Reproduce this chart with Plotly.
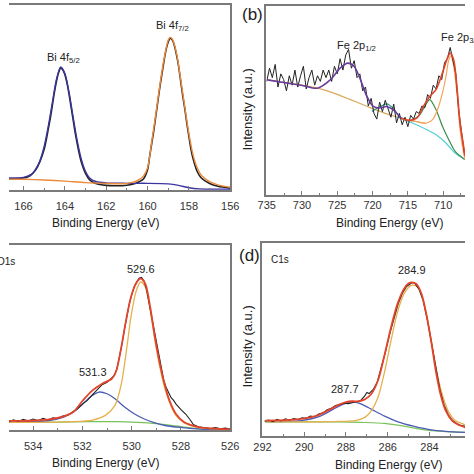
import plotly.graph_objects as go

# ---------------- Panel (a): Bi 4f ----------------
a_raw_x = [166.7,166.3,166.0,165.8,165.6,165.4,165.2,165.0,164.9,164.8,164.7,164.6,164.5,164.4,164.3,164.2,164.1,164.0,163.9,163.8,163.7,163.6,163.5,163.4,163.3,163.2,163.0,162.8,162.5,162.0,161.5,161.0,160.6,160.4,160.2,160.0,159.9,159.8,159.7,159.6,159.5,159.4,159.3,159.2,159.1,159.0,158.9,158.8,158.7,158.6,158.5,158.4,158.3,158.2,158.1,158.0,157.9,157.8,157.6,157.4,157.0,156.6,156.0]
a_raw_y = [6.0,6.2,6.5,7.0,8.5,11,15.5,22,27,33,39,46,53,59,63.5,66,65,62.5,58,52,45,38,31,25,19.5,15,9,5.5,3.5,2.5,2.3,2.6,3.5,4.5,6,11,18,25,32,40,48,56,63,70,76,80,82,81,78,73,67,59,51,44,36,29,22,17,10,6.5,3.5,2,1]
a_c1_x = [166.7,166.0,165.6,165.4,165.2,165.0,164.8,164.6,164.4,164.2,164.0,163.8,163.6,163.4,163.2,163.0,162.8,162.5,162.0,161.0,160.0,159.0,158.5,158.0,157.5,156.0]
a_c1_y = [6.5,6.8,8.6,11.5,16,23.5,34.5,47.5,60,66.5,63,53,39.5,26.5,16.5,10,6.5,4.6,3.8,3.6,3.6,3.3,2.5,1.2,0.6,0.5]
a_c2_x = [166.7,166.0,165.0,164.0,163.0,162.0,161.2,160.8,160.5,160.2,160.0,159.8,159.6,159.4,159.2,159.0,158.9,158.8,158.6,158.4,158.2,158.0,157.8,157.6,157.4,157.0,156.6,156.0]
a_c2_y = [5.9,5.8,5.4,4.8,4.0,3.6,3.4,4.0,5.0,7.5,12,26,41,57,71,81,82.5,81.5,74,60,45,30.5,19,12,8,4.5,2.8,1.5]
a_ticks = [166, 164, 162, 160, 158, 156]

# ---------------- Panel (b): Fe 2p ----------------
b_raw_x = [735.0,734.6,734.2,733.8,733.4,733.0,732.6,732.2,731.8,731.4,731.0,730.6,730.2,729.8,729.4,729.0,728.6,728.2,727.8,727.4,727.0,726.6,726.2,725.8,725.4,725.0,724.6,724.2,723.8,723.4,723.0,722.6,722.2,721.8,721.4,721.0,720.6,720.2,719.8,719.4,719.0,718.6,718.2,717.8,717.4,717.0,716.6,716.2,715.8,715.4,715.0,714.6,714.2,713.8,713.4,713.0,712.6,712.2,711.8,711.4,711.0,710.6,710.2,709.8,709.4,709.0,708.6,708.2,707.8,707.4,707.0]
b_raw_y = [60,67,62,69,57,64,61,55,63,58,66,57,63,68,56,62,66,58,63,60,66,62,66,60,68,64,72,66,74,77,67,71,62,64,55,57,47,51,43,40,49,44,50,45,41,48,38,43,37,41,36,42,40,44,43,47,46,53,51,58,56,63,61,70,72,78,70,64,45,33,22]
b_fit1_x = [734.9,732.4,730.1,727.8,726.0,724.6,723.5,722.6,721.7,720.8,719.9,719.0,718.0,717.1,716.0]
b_fit1_y = [60.8,59.3,58.0,56.4,60.8,67.0,69.7,67.9,60.8,52.0,46.7,45.9,46.7,45.0,40.6]
b_fit2_x = [716.0,714.9,713.7,712.8,711.9,711.0,710.1,709.4,709.0,708.5,708.05,707.6,707.1,706.9]
b_fit2_y = [40.6,39.3,40.6,46.7,52.0,55.6,64.4,72.3,75.0,71.4,57.3,37.9,25.6,20.3]
b_bg_x = [734.9,732.4,730.1,727.8,725.5,723.3,721.0,719.6,718.3,716.5,714.6,713.3,712.4]
b_bg_y = [60.8,59.4,58.0,56.4,53.8,50.6,47.1,45.0,43.2,41.1,39.3,38.3,37.6]
b_main_x = [714.6,713.3,712.4,711.5,710.8,710.1,709.6,709.2,708.9,708.5,708.0,707.6,707.1,706.9]
b_main_y = [39.3,38.3,37.8,39.7,45.0,53.8,62.6,71.4,73.5,68.0,52.0,34.4,22.0,18.5]
b_sh_x = [714.6,713.3,712.6,711.9,711.0,710.1,709.2,708.3,706.9]
b_sh_y = [38.8,42.3,46.7,50.3,45.0,36.2,29.1,22.9,18.5]
b_sat_x = [720.1,719.0,718.0,717.1,716.2,715.3]
b_sat_y = [44.1,46.4,48.1,45.9,41.4,39.7]
b_bg2_x = [716.5,714.6,712.8,711.0,709.6,708.3,706.9]
b_bg2_y = [41.1,38.3,35.3,31.7,27.3,22.0,18.5]
b_ticks = [735, 730, 725, 720, 715, 710]

# ---------------- Panel (c): O 1s ----------------
c_raw_x = [535.0,534.8,534.6,534.4,534.2,534.0,533.8,533.6,533.4,533.2,533.0,532.8,532.6,532.4,532.2,532.0,531.8,531.6,531.4,531.2,531.0,530.8,530.7,530.6,530.5,530.4,530.3,530.2,530.1,530.0,529.9,529.8,529.7,529.6,529.5,529.4,529.3,529.2,529.1,529.0,528.9,528.8,528.7,528.6,528.5,528.4,528.3,528.2,528.0,527.8,527.6,527.5,527.3,527.0,526.8,526.6,526.4,526.2,526.0]
c_raw_y = [4.3,5.5,4.6,5.8,4.9,5.9,5.0,6.3,5.4,6.6,6.2,7.6,8.0,9.8,11.5,14.0,16.0,19.0,22.0,24.5,25.8,28.0,29.5,33.0,39,46,54,62,68,73,77.5,80,82,82.5,80.5,76,69,61,53,46,39,32,27,23,20,17.5,16,14,11,8.5,5,3,1.8,1.2,0.8,1.3,0.6,1.0,0.5]
c_fit_x = [534.98,534.2,533.41,532.76,532.37,531.98,531.59,531.2,530.81,530.62,530.42,530.23,530.03,529.83,529.64,529.45,529.25,529.06,528.86,528.67,528.47,528.21,527.88,527.56,527.17,526.65,526.03]
c_fit_y = [4.9,5.0,5.6,7.4,9.7,16.0,21.4,25.0,27.7,32.3,44.9,59.3,71.9,79.1,81.8,79.1,66.5,50.3,35.9,25.0,16.0,8.8,4.3,2.5,1.3,0.7,0.4]
c_c1_x = [534.98,533.41,532.76,532.37,531.98,531.65,531.33,531.0,530.68,530.29,529.9,529.51,529.12,528.6,527.95,527.17,526.03]
c_c1_y = [4.3,5.0,7.0,9.7,14.2,18.2,20.5,19.6,16.9,12.4,8.8,6.1,4.1,2.3,1.3,0.5,0.2]
c_c2_x = [534.98,532.37,531.59,531.07,530.68,530.42,530.23,530.03,529.83,529.64,529.45,529.25,529.06,528.86,528.67,528.47,528.21,527.88,527.56,527.17,526.03]
c_c2_y = [4.1,4.5,5.4,7.9,13.3,25.0,41.3,61.1,74.6,80.0,77.3,64.7,48.5,34.1,23.2,15.1,7.9,4.0,2.2,1.1,0.2]
c_bg_x = [534.98,533.02,531.72,530.68,529.77,528.99,528.21,527.43,526.65,526.03]
c_bg_y = [4.1,4.3,4.5,4.5,4.1,3.4,2.2,0.9,0.4,0.2]
c_ticks = [534, 532, 530, 528, 526]

# ---------------- Panel (d): C 1s ----------------
d_raw_x = [291.9,291.7,291.5,291.3,291.1,290.9,290.7,290.5,290.3,290.1,289.9,289.7,289.5,289.3,289.1,288.9,288.7,288.5,288.3,288.1,287.9,287.7,287.5,287.3,287.1,287.0,286.9,286.8,286.7,286.5,286.3,286.1,285.9,285.7,285.5,285.3,285.1,284.9,284.8,284.7,284.5,284.3,284.1,283.9,283.7,283.5,283.3,283.1,282.9,282.7,282.5,282.3]
d_raw_y = [7.6,8.3,7.4,8.6,7.8,8.9,8.2,9.0,8.5,9.4,9.2,10.3,10.0,11.4,12.0,13.6,14.4,15.8,16.2,17.0,16.8,17.2,17.6,18.3,20.8,22.5,22.0,22.8,24.0,28.0,35.5,44,53,61,68.5,74,77.5,79,79.5,79,76,70,60,48,35,24,16,11,8,6.5,5.5,5.0]
d_fit_x = [291.85,290.92,290.15,289.38,288.77,288.31,288.0,287.69,287.38,287.08,286.77,286.46,286.15,285.85,285.54,285.23,285.0,284.85,284.62,284.38,284.15,283.92,283.69,283.46,283.23,282.92,282.62,282.29]
d_fit_y = [8.0,8.2,8.9,10.6,13.8,16.4,17.6,18.0,18.0,19.0,22.0,29.0,42.1,56.0,68.2,76.1,79.1,79.6,78.7,73.5,63.0,49.0,33.3,21.1,13.3,8.0,5.8,4.5]
d_c1_x = [291.85,290.15,289.23,288.62,288.15,287.77,287.54,287.23,286.77,286.15,285.54,284.77,284.0,283.23,282.29]
d_c1_y = [7.5,8.0,10.3,13.8,16.4,17.6,17.6,16.4,13.8,10.3,7.5,5.1,3.3,2.4,1.9]
d_c2_x = [291.85,288.62,287.54,287.08,286.77,286.46,286.15,285.85,285.54,285.23,284.92,284.77,284.54,284.31,284.08,283.85,283.62,283.38,283.08,282.77,282.29]
d_c2_y = [7.3,7.5,8.0,9.8,13.3,20.2,33.3,49.0,63.9,73.5,77.8,78.2,77.0,70.9,59.5,45.5,31.6,21.1,12.4,8.0,5.8]
d_bg_x = [291.85,288.62,287.08,286.15,285.23,284.31,283.38,282.29]
d_bg_y = [7.3,7.3,7.0,6.5,5.1,3.3,2.4,1.9]
d_ticks = [292, 290, 288, 286, 284]

BLACK = "#222222"
RED = "#e2442c"
FONT = "Liberation Sans, Arial, sans-serif"

fig = go.Figure()

def line(x, y, color, xa, ya, width=1.4, shape="spline"):
    fig.add_trace(go.Scatter(x=x, y=y, mode="lines", xaxis=xa, yaxis=ya,
                             line=dict(color=color, width=width, shape=shape, smoothing=0.8),
                             hoverinfo="skip", showlegend=False))

# (a)
line(a_raw_x, a_raw_y, BLACK, "x", "y", 1.6)
line(a_c1_x, a_c1_y, "#3b35a0", "x", "y", 1.4)
line(a_c2_x, a_c2_y, "#ec8a3c", "x", "y", 1.4)
# (b)
line(b_bg_x, b_bg_y, "#d9a95e", "x2", "y2", 1.2)
line(b_bg2_x, b_bg2_y, "#4fd0d6", "x2", "y2", 1.2)
line(b_sat_x, b_sat_y, "#2f9a86", "x2", "y2", 1.2)
line(b_sh_x, b_sh_y, "#3a8f4a", "x2", "y2", 1.2)
line(b_main_x, b_main_y, "#f2a45a", "x2", "y2", 1.2)
line(b_raw_x, b_raw_y, BLACK, "x2", "y2", 1.0, "linear")
line(b_fit1_x, b_fit1_y, "#6a3c9c", "x2", "y2", 1.6)
line(b_fit2_x, b_fit2_y, RED, "x2", "y2", 1.6)
# (c)
line(c_bg_x, c_bg_y, "#79c25a", "x3", "y3", 1.2)
line(c_c1_x, c_c1_y, "#4b5cb4", "x3", "y3", 1.3)
line(c_c2_x, c_c2_y, "#e7b04e", "x3", "y3", 1.3)
line(c_raw_x, c_raw_y, BLACK, "x3", "y3", 1.1, "linear")
line(c_fit_x, c_fit_y, RED, "x3", "y3", 1.8)
# (d)
line(d_bg_x, d_bg_y, "#79c25a", "x4", "y4", 1.2)
line(d_c1_x, d_c1_y, "#4b5cb4", "x4", "y4", 1.3)
line(d_c2_x, d_c2_y, "#e7b04e", "x4", "y4", 1.3)
line(d_raw_x, d_raw_y, BLACK, "x4", "y4", 1.1, "linear")
line(d_fit_x, d_fit_y, RED, "x4", "y4", 1.8)

FRAME = "#7a7a7a"
S = 474.0

def xax(domain, rng, ticks, minor_dt, anchor, standoff):
    return dict(domain=domain, range=rng, anchor=anchor, tickvals=ticks,
                showline=True, linecolor=FRAME, linewidth=1.5, mirror=True,
                ticks="inside", ticklen=4, tickcolor=FRAME, tickwidth=1,
                minor=dict(ticks="inside", ticklen=2, dtick=minor_dt, tickcolor=FRAME),
                showgrid=False, zeroline=False, ticklabelstandoff=standoff,
                tickfont=dict(family=FONT, size=11, color="#333333"))

def yax(domain, anchor, side):
    return dict(domain=domain, range=[0, 100], anchor=anchor, side=side,
                showline=True, linecolor=FRAME, linewidth=1.5, mirror=False,
                ticks="", showticklabels=False, showgrid=False, zeroline=False)

fig.update_layout(
    width=474, height=474, margin=dict(l=0, r=0, t=0, b=0),
    paper_bgcolor="white", plot_bgcolor="white", showlegend=False,
    xaxis=xax([0, 230 / S], [166.70, 156.0], a_ticks, 1, "y", 5),
    yaxis=yax([1 - 190 / S, 1 - 5 / S], "x", "right"),
    xaxis2=xax([267.5 / S, 1], [735.05, 706.9], b_ticks, 2.5, "y2", 0),
    yaxis2=yax([1 - 194.5 / S, 1 - 6 / S], "x2", "left"),
    xaxis3=xax([0, 230 / S], [534.98, 526.0], c_ticks, 1, "y3", 5),
    yaxis3=yax([1 - 430 / S, 1 - 245 / S], "x3", "right"),
    xaxis4=xax([263 / S, 1], [292.02, 282.3], d_ticks, 1, "y4", 0),
    yaxis4=yax([1 - 436 / S, 1 - 243 / S], "x4", "left"),
)

def note(text, px, py, size=11, xanchor="center", angle=0):
    fig.add_annotation(text=text, x=px / S, y=1 - py / S, xref="paper", yref="paper",
                       showarrow=False, xanchor=xanchor, yanchor="middle", textangle=angle,
                       font=dict(family=FONT, size=size, color="#222222"))

note("Bi 4f<sub>5/2</sub>", 57, 58)
note("Bi 4f<sub>7/2</sub>", 170, 26)
note("Fe 2p<sub>1/2</sub>", 361, 46)
note("Fe 2p<sub>3/2</sub>", 447, 38, xanchor="left")
note("(b)", 253, 15, size=17)
note("(d)", 250, 256, size=17)
note("O1s", 8, 261, size=10, xanchor="right")
note("C1s", 282, 259, size=10)
note("531.3", 87, 372)
note("529.6", 137, 269)
note("284.9", 419, 270)
note("287.7", 349, 389)
note("Intensity (a.u.)", 247, 110, size=13, angle=-90)
note("Intensity (a.u.)", 247, 347, size=13, angle=-90)
note("Binding Energy (eV)", 100, 223, size=12)
note("Binding Energy (eV)", 395, 223, size=12)
note("Binding Energy (eV)", 100, 463, size=12)
note("Binding Energy (eV)", 394, 465, size=12)

fig.write_html("out.html", config={"displayModeBar": False},
               post_script="document.body.style.margin='0px';document.body.style.overflow='hidden';")
